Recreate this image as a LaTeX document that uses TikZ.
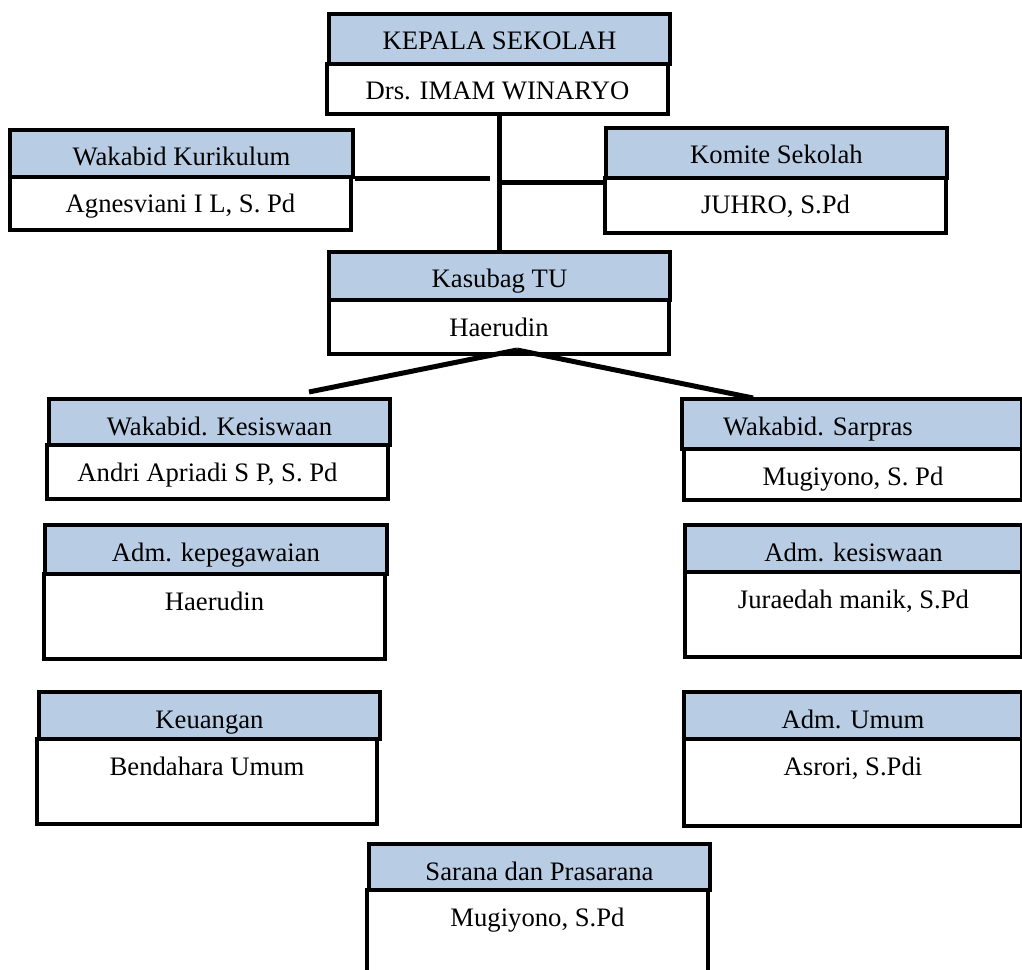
\documentclass[tikz,border=0pt]{standalone}
\usepackage{fontspec}
\setmainfont{Liberation Serif}
\definecolor{hdrblue}{HTML}{B8CCE4}
\begin{document}
\begin{tikzpicture}[x=0.75pt,y=-0.75pt,
  box/.style={draw, line width=3pt, inner xsep=0pt, inner ysep=0pt, anchor=north west,
    font=\fontsize{20}{24}\selectfont, text height=27pt},
  hdr/.style={box, fill=hdrblue},
  wbox/.style={box, fill=white},
  link/.style={line width=3.75pt}]
\useasboundingbox (0,0) rectangle (1022,970);

% top
\node[hdr, minimum width=255.75pt, text depth=10.5pt] (kepH) at (327,12) {KEPALA SEKOLAH};
\node[wbox, minimum width=255.75pt, text depth=10.5pt] (kepW) at (325,62) {Drs. IMAM WINARYO};

\node[hdr, minimum width=257.25pt, text depth=8.25pt] (kurH) at (8,128) {Wakabid Kurikulum};
\node[wbox, minimum width=255.75pt, text depth=12.75pt] (kurW) at (8,175) {Agnesviani I L, S. Pd};

\node[hdr, minimum width=255.75pt, text depth=10.5pt] (komH) at (604,126) {Komite Sekolah};
\node[wbox, minimum width=255.75pt, text depth=14.25pt] (komW) at (603,176) {JUHRO, S.Pd};

\node[hdr, minimum width=255.75pt, text depth=9pt] (kasH) at (327,250) {Kasubag TU};
\node[wbox, minimum width=255pt, text depth=13.5pt] (kasW) at (327,298) {Haerudin};

% second level
\node[hdr, minimum width=255.75pt, text depth=7.5pt] (kesH) at (47,397) {Wakabid. Kesiswaan};
\node[wbox, minimum width=255.75pt, text depth=13.5pt] (kesW) at (45,443) {\hspace*{-15pt}Andri Apriadi S P, S. Pd};

\node[hdr, minimum width=255pt, text depth=10.5pt] (sarH) at (680,397) {\hspace*{-51pt}Wakabid. Sarpras};
\node[wbox, minimum width=253.5pt, text depth=11.25pt] (sarW) at (682,447) {Mugiyono, S. Pd};

\node[hdr, minimum width=256.5pt, text depth=9.75pt] (pegH) at (43,523) {Adm. kepegawaian};
\node[wbox, minimum width=255.75pt, text depth=36.75pt] (pegW) at (42,572) {Haerudin};

\node[hdr, minimum width=252.75pt, text depth=8.25pt] (adkH) at (683,523) {Adm. kesiswaan};
\node[wbox, minimum width=252.75pt, text depth=36.75pt] (adkW) at (683,570) {Juraedah manik, S.Pd};

\node[hdr, minimum width=255.75pt, text depth=8.25pt] (keuH) at (37,690) {Keuangan};
\node[wbox, minimum width=255pt, text depth=36.75pt] (keuW) at (35,737) {Bendahara Umum};

\node[hdr, minimum width=253.5pt, text depth=8.25pt] (umH) at (682,690) {Adm. Umum};
\node[wbox, minimum width=253.5pt, text depth=38.25pt] (umW) at (682,737) {Asrori, S.Pdi};

\node[hdr, minimum width=255.75pt, text depth=7.5pt] (spH) at (367,842) {Sarana dan Prasarana};
\node[wbox, minimum width=255.75pt, text depth=40.5pt] (spW) at (365,888) {Mugiyono, S.Pd};

% connectors
\coordinate (kurEnd) at (490,179);
\coordinate (komJ) at (497,183);
\coordinate (fork) at (517,350);
\coordinate (kesEnd) at (309,392);
\coordinate (sarEnd) at (753,398);

\draw[link] (kepW.south -| kasH.north) -- (kasH.north);
\draw[link] (kurH.east |- kurEnd) -- (kurEnd);
\draw[link] (komJ) -- (komJ -| komW.west);
\draw[link] (fork) -- (kesEnd);
\draw[link] (fork) -- (sarEnd);
\end{tikzpicture}
\end{document}
